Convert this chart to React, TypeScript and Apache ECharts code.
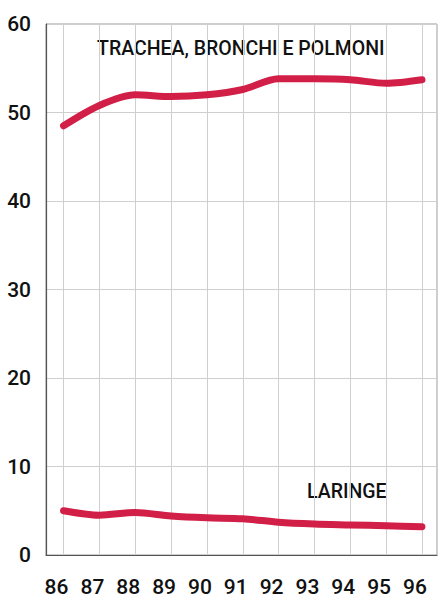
import React, { useEffect, useRef } from "react";
import * as echarts from "echarts";

const years = [86, 87, 88, 89, 90, 91, 92, 93, 94, 95, 96];
const tracheaValues = [48.5, 50.8, 52, 51.8, 52, 52.6, 53.8, 53.8, 53.7, 53.3, 53.7];
const laringeValues = [5.0, 4.5, 4.8, 4.4, 4.2, 4.1, 3.7, 3.5, 3.4, 3.3, 3.2];
const yTicks = [0, 10, 20, 30, 40, 50, 60];
const seriesNames = ["TRACHEA, BRONCHI E POLMONI", "LARINGE"];

const RED = "#d11f47";
const FONT = "Roboto, 'Liberation Sans', Arial, sans-serif";

export default function App() {
  const ref = useRef<HTMLDivElement>(null);
  useEffect(() => {
    if (!ref.current) return;
    const chart = echarts.init(ref.current, undefined, { renderer: "svg" });
    chart.setOption({
      animation: false,
      backgroundColor: "#ffffff",
      grid: { left: 46, right: 5, top: 24, bottom: 46, show: true, borderColor: "#9a9a9a", borderWidth: 1, containLabel: false },
      xAxis: {
        type: "value",
        min: 85.51,
        max: 96.42,
        minInterval: 1,
        maxInterval: 1,
        axisLine: { show: true, lineStyle: { color: "#555", width: 1.2 } },
        axisTick: { show: false },
        splitLine: { show: true, lineStyle: { color: "#cfcfcf", width: 1 } },
        axisLabel: {
          showMinLabel: false,
          showMaxLabel: false,
          margin: 21,
          fontSize: 21,
          fontWeight: 500,
          color: "#111",
          fontFamily: FONT,
          padding: [0, 14, 0, 0],
          formatter: (v: number) => (Number.isInteger(v) && years.includes(v) ? String(v) : ""),
        },
      },
      yAxis: {
        type: "value",
        min: yTicks[0],
        max: yTicks[yTicks.length - 1],
        interval: 10,
        axisLine: { show: true, lineStyle: { color: "#555", width: 1.2 } },
        axisTick: { show: false },
        splitLine: { show: true, lineStyle: { color: "#cfcfcf", width: 1 } },
        axisLabel: { margin: 15, fontSize: 21, fontWeight: 500, color: "#111", fontFamily: FONT },
      },
      series: [
        {
          name: seriesNames[0],
          type: "line",
          data: years.map((y, i) => [y, tracheaValues[i]]),
          smooth: 0.3,
          showSymbol: false,
          lineStyle: { color: RED, width: 7, cap: "round", join: "round" },
        },
        {
          name: seriesNames[1],
          type: "line",
          data: years.map((y, i) => [y, laringeValues[i]]),
          smooth: 0.3,
          showSymbol: false,
          lineStyle: { color: RED, width: 7, cap: "round", join: "round" },
        },
      ],
      graphic: [
        {
          type: "text",
          left: 97,
          top: 38,
          style: { text: seriesNames[0], fontSize: 19.5, fontWeight: 500, fontFamily: FONT, fill: "#111" },
        },
        {
          type: "text",
          left: 307,
          top: 481,
          style: { text: seriesNames[1], fontSize: 19.5, fontWeight: 500, fontFamily: FONT, fill: "#111" },
        },
      ],
    });
    return () => chart.dispose();
  }, []);
  return <div ref={ref} style={{ width: 442, height: 601, position: "absolute", left: 0, top: 0 }} />;
}
